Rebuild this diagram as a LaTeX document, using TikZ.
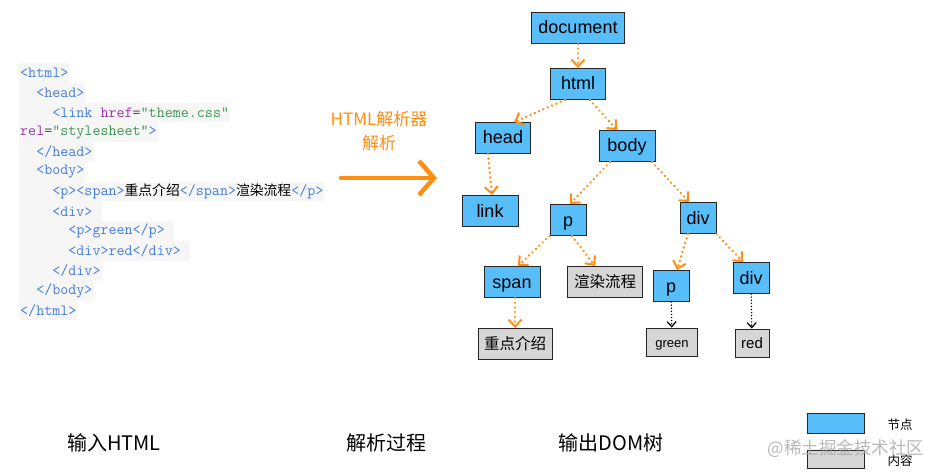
\documentclass[tikz,border=0pt]{standalone}
\usepackage{fontspec}
\setmainfont{Liberation Sans}
\newfontfamily\cjk{Noto Sans CJK SC}
\usetikzlibrary{arrows.meta,positioning}
\definecolor{nodeblue}{RGB}{88,190,250}
\definecolor{leafgray}{RGB}{214,214,214}
\definecolor{parseorange}{RGB}{255,142,18}
\definecolor{codebg}{RGB}{246,246,246}
\definecolor{tagc}{RGB}{70,125,222}
\definecolor{attrc}{RGB}{160,50,170}
\definecolor{strc}{RGB}{60,150,80}
\newcommand\ctag[1]{\textcolor{tagc}{#1}}
\newcommand\cattr[1]{\textcolor{attrc}{#1}}
\newcommand\cstr[1]{\textcolor{strc}{#1}}
\newcommand\ceq{\textcolor{black!70}{=}}
\newcommand\ccjk[1]{{\cjk\fontsize{13.8}{14}\selectfont #1}}
\tikzset{
  codeln/.style={anchor=west, fill=codebg, inner xsep=1pt, inner ysep=0pt, minimum height=19.8pt,
    font=\ttfamily\fontsize{15.6}{16}\selectfont},
  nodebox/.style={draw=black!85, line width=0.9pt, fill=nodeblue, minimum width=36pt, minimum height=31pt,
    inner xsep=5pt, text height=16pt, text depth=4pt, font=\fontsize{18}{20}\selectfont},
  textbox/.style={nodebox, fill=leafgray, font=\cjk\fontsize{15.5}{17}\selectfont, text height=12pt, text depth=2pt},
  tarr/.style={-{Straight Barb[length=7pt,width=13pt,line width=2pt]}, parseorange, line width=2.6pt,
    dash pattern=on 0.1pt off 4.6pt, line cap=round},
  karr/.style={-{Straight Barb[length=5pt,width=9pt,line width=1.2pt]}, black, line width=1.5pt,
    dash pattern=on 0.1pt off 3pt, line cap=round},
  bigarr/.style={-{Straight Barb[length=15pt,width=34pt,line width=4.5pt]}, parseorange, line width=4.5pt, line cap=round},
  stagelbl/.style={font=\cjk\fontsize{20}{22}\selectfont},
  lgnd/.style={draw=black!85, line width=0.9pt, minimum width=57pt, inner sep=0pt},
  lgtxt/.style={font=\cjk\fontsize{12.5}{14}\selectfont}}

\begin{document}
\begin{tikzpicture}[x=1pt, y=-1pt]
  \useasboundingbox (0,0) rectangle (943,476);
  \node[codeln] (c1) at (19,73.0) {\ctag{<html>}};
  \node[codeln] (c2) at (19,92.8) {\phantom{xx}\ctag{<head>}};
  \node[codeln] (c3) at (19,112.5) {\phantom{xxxx}\ctag{<link} \cattr{href}\ceq\cstr{"theme.css"}};
  \node[codeln] (c4) at (19,132.3) {\cattr{rel}\ceq\cstr{"stylesheet"}\ctag{>}};
  \node[codeln] (c5) at (19,152.1) {\phantom{xx}\ctag{</head>}};
  \node[codeln] (c6) at (19,171.9) {\phantom{xx}\ctag{<body>}};
  \node[codeln] (c7) at (19,191.6) {\phantom{xxxx}\ctag{<p><span>}\ccjk{重点介绍}\ctag{</span>}\ccjk{渲染流程}\ctag{</p>}};
  \node[codeln] (c8) at (19,211.4) {\phantom{xxxx}\ctag{<div>}\phantom{x}};
  \node[codeln] (c9) at (19,231.2) {\phantom{xxxxxx}\ctag{<p>green</p>}\phantom{x}};
  \node[codeln] (c10) at (19,251.0) {\phantom{xxxxxx}\ctag{<div>red</div>}\phantom{x}};
  \node[codeln] (c11) at (19,270.7) {\phantom{xxxx}\ctag{</div>}};
  \node[codeln] (c12) at (19,290.5) {\phantom{xx}\ctag{</body>}};
  \node[codeln] (c13) at (19,310.3) {\ctag{</html>}};

  \node[parseorange, align=center, font=\cjk\fontsize{17}{24}\selectfont] (parser) at (379,131) {HTML解析器\\解析};
  \coordinate (parseS) at (341,178);
  \coordinate (parseE) at (437,178);
  \draw[bigarr] (parseS) -- (parseE);

  \node[nodebox, minimum width=93pt] (document) at (578,28) {document};
  \node[nodebox, minimum width=55pt] (html) at (578,84) {html};
  \node[nodebox, minimum width=55pt] (head) at (503,138) {head};
  \node[nodebox, minimum width=56pt] (body) at (627,146) {body};
  \node[nodebox, minimum width=56pt] (link) at (490,211) {link};
  \node[nodebox] (p) at (568,220) {p};
  \node[nodebox] (div) at (698,218) {div};
  \node[nodebox, minimum width=56pt] (span) at (512,282) {span};
  \node[textbox, minimum width=75pt] (render) at (605,282) {渲染流程};
  \node[nodebox] (pgreen) at (671,286) {p};
  \node[nodebox] (divred) at (751,278) {div};
  \node[textbox, minimum width=74pt] (intro) at (515,344) {重点介绍};
  \node[textbox, minimum width=51pt, minimum height=28pt, font=\fontsize{13}{14}\selectfont] (green) at (672,342) {green};
  \node[textbox, minimum width=34pt, minimum height=28pt, font=\fontsize{15}{17}\selectfont] (red) at (752,343) {red};

  \draw[tarr] (document) -- (html);
  \draw[tarr] ([xshift=-13pt]html.south) -- ([xshift=11pt]head.north);
  \draw[tarr] ([xshift=12pt]html.south) -- ([xshift=-10pt]body.north);
  \draw[tarr] ([xshift=-15pt]head.south) -- ([xshift=2pt]link.north);
  \draw[tarr] ([xshift=-17pt]body.south) -- ([xshift=2pt]p.north);
  \draw[tarr] ([xshift=25pt]body.south) -- ([xshift=-9pt]div.north);
  \draw[tarr] (p.south west) -- ([xshift=6pt]span.north);
  \draw[tarr] ([xshift=4pt]p.south) -- ([xshift=-10pt]render.north);
  \draw[tarr] ([xshift=-10pt]div.south) -- ([xshift=6pt]pgreen.north);
  \draw[tarr] (div.south east) -- ([xshift=-8pt]divred.north);
  \draw[tarr] ([xshift=3pt]span.south) -- (intro.north);
  \draw[karr] (pgreen) -- (green);
  \draw[karr] (divred) -- (red);

  \node[stagelbl] (inHTML) at (114,443) {输入HTML};
  \node[stagelbl] (process) at (386,443) {解析过程};
  \node[stagelbl] (outDOM) at (611,443) {输出DOM树};

  \node[lgnd, fill=nodeblue, minimum height=20pt] (lgnode) at (836,423) {};
  \node[lgnd, fill=leafgray, minimum height=18pt] (lgleaf) at (836,459) {};
  \node[lgtxt] (lgnodetxt) at (900,425) {节点};
  \node[lgtxt] (lgleaftxt) at (900,461) {内容};
  \node[font=\cjk\fontsize{17.5}{19}\selectfont, text=black!35, opacity=0.8] (wmark) at (846,449) {@稀土掘金技术社区};
\end{tikzpicture}
\end{document}
